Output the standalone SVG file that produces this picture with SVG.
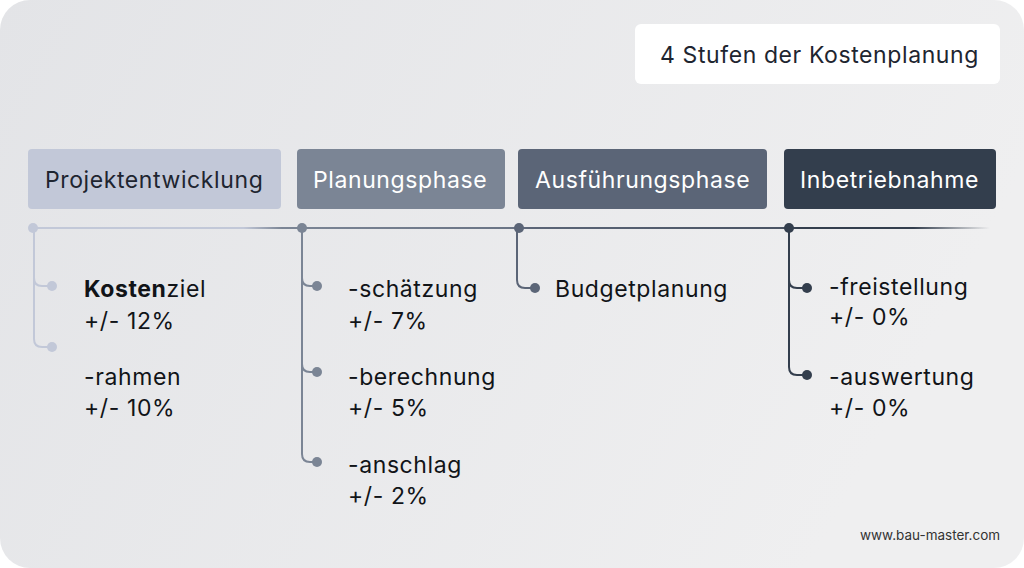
<svg xmlns="http://www.w3.org/2000/svg" width="1024" height="568" viewBox="0 0 1024 568">
<defs>
<linearGradient id="bg" x1="0" y1="0" x2="1" y2="0.3">
<stop offset="0" stop-color="#e3e4e7"/>
<stop offset="1" stop-color="#efeff0"/>
</linearGradient>
<linearGradient id="axis" gradientUnits="userSpaceOnUse" x1="33" y1="0" x2="990" y2="0">
<stop offset="0" stop-color="#c2c8d8"/>
<stop offset="0.22" stop-color="#c2c8d8"/>
<stop offset="0.26" stop-color="#7b8595"/>
<stop offset="0.5" stop-color="#6a7485"/>
<stop offset="0.52" stop-color="#5b6577"/>
<stop offset="0.78" stop-color="#4a5464"/>
<stop offset="0.8" stop-color="#333e4d"/>
<stop offset="0.92" stop-color="#333e4d"/>
<stop offset="1" stop-color="#333e4d" stop-opacity="0"/>
</linearGradient>
<style>
text{font-family:Inter,"Noto Sans","Liberation Sans",sans-serif;}
.lbl{font-size:23px;letter-spacing:0.6px;}
.item{font-size:23px;letter-spacing:0.6px;fill:#111418;}
.conn{fill:none;stroke-width:2;}
</style>
</defs>
<rect width="1024" height="568" fill="#ffffff"/>
<rect x="0" y="0" width="1024" height="568" rx="30" fill="url(#bg)"/>

<g id="title">
<rect x="635" y="24" width="365" height="60" rx="6" fill="#ffffff"/>
<text x="660" y="63" class="lbl" fill="#1e2530">4 Stufen der Kostenplanung</text>
</g>

<g id="connectors">
<line x1="33" y1="228" x2="990" y2="228" stroke="url(#axis)" stroke-width="2"/>
<path class="conn" stroke="#c2c8d8" d="M34,228 V278 Q34,286 42,286 H52 M34,278 V339 Q34,347 42,347 H52"/>
<path class="conn" stroke="#7b8595" d="M302,228 V278 Q302,286 310,286 H317 M302,278 V364 Q302,372 310,372 H317 M302,364 V454 Q302,462 310,462 H317"/>
<path class="conn" stroke="#5b6577" d="M517,228 V280 Q517,288 525,288 H535"/>
<path class="conn" stroke="#333e4d" d="M789,228 V280 Q789,288 797,288 H807 M789,280 V367 Q789,375 797,375 H807"/>
<circle cx="33" cy="228" r="5" fill="#c2c8d8"/>
<circle cx="302" cy="228" r="5" fill="#7b8595"/>
<circle cx="519" cy="228" r="5" fill="#5b6577"/>
<circle cx="789" cy="228" r="5" fill="#333e4d"/>
<circle cx="52" cy="286" r="5" fill="#c2c8d8"/>
<circle cx="52" cy="347" r="5" fill="#c2c8d8"/>
<circle cx="317" cy="286" r="5" fill="#7b8595"/>
<circle cx="317" cy="372" r="5" fill="#7b8595"/>
<circle cx="317" cy="462" r="5" fill="#7b8595"/>
<circle cx="535" cy="288" r="5" fill="#5b6577"/>
<circle cx="807" cy="288" r="5" fill="#333e4d"/>
<circle cx="807" cy="375" r="5" fill="#333e4d"/>
</g>

<g id="projektentwicklung">
<rect x="28" y="149" width="253" height="60" rx="4" fill="#c2c8d8"/>
<text x="45" y="188" class="lbl" fill="#1e2530">Projektentwicklung</text>
</g>
<g id="planungsphase">
<rect x="297" y="149" width="208" height="60" rx="4" fill="#7b8595"/>
<text x="313" y="188" class="lbl" fill="#ffffff">Planungsphase</text>
</g>
<g id="ausfuehrungsphase">
<rect x="518" y="149" width="249" height="60" rx="4" fill="#5b6577"/>
<text x="535" y="188" class="lbl" fill="#ffffff">Ausführungsphase</text>
</g>
<g id="inbetriebnahme">
<rect x="784" y="149" width="212" height="60" rx="4" fill="#333e4d"/>
<text x="800" y="188" class="lbl" fill="#ffffff">Inbetriebnahme</text>
</g>

<g id="kostenziel">
<text x="84" y="297" class="item"><tspan font-weight="700">Kosten</tspan>ziel</text>
<text x="84" y="329" class="item">+/- 12%</text>
</g>
<g id="kostenrahmen">
<text x="84" y="385" class="item">-rahmen</text>
<text x="84" y="416" class="item">+/- 10%</text>
</g>
<g id="kostenschaetzung">
<text x="348" y="297" class="item">-schätzung</text>
<text x="348" y="329" class="item">+/- 7%</text>
</g>
<g id="kostenberechnung">
<text x="348" y="385" class="item">-berechnung</text>
<text x="348" y="416" class="item">+/- 5%</text>
</g>
<g id="kostenanschlag">
<text x="348" y="473" class="item">-anschlag</text>
<text x="348" y="504" class="item">+/- 2%</text>
</g>
<g id="budgetplanung">
<text x="555" y="297" class="item">Budgetplanung</text>
</g>
<g id="kostenfreistellung">
<text x="829" y="295" class="item">-freistellung</text>
<text x="829" y="325" class="item">+/- 0%</text>
</g>
<g id="kostenauswertung">
<text x="829" y="385" class="item">-auswertung</text>
<text x="829" y="416" class="item">+/- 0%</text>
</g>

<text x="860" y="540" font-size="13.5" fill="#333333">www.bau-master.com</text>
</svg>
